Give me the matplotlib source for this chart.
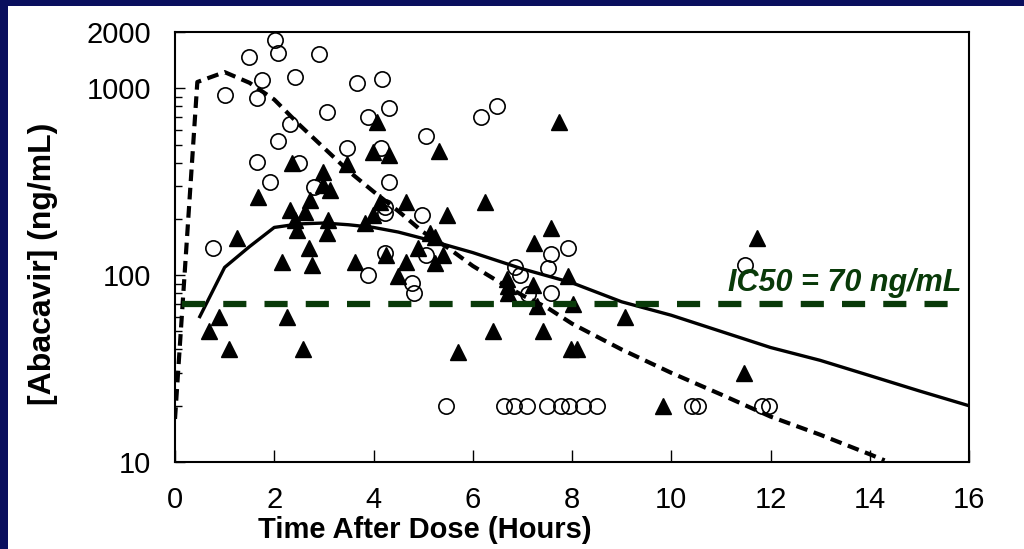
import matplotlib
matplotlib.use("Agg")
import matplotlib.pyplot as plt
from matplotlib.patches import Rectangle
from matplotlib.ticker import FixedLocator, LogLocator, NullFormatter

plt.rcParams["font.family"] = ["Liberation Sans", "DejaVu Sans"]

# open circles (x hours, ng/mL)
circ_x = [2.02, 2.08, 1.49, 2.90, 2.42, 1.75, 3.67, 1.01, 1.65, 3.06, 2.32, 2.08, 3.47,
          4.17, 4.31, 3.89, 5.06, 4.15, 1.65, 2.50, 1.91, 4.31, 2.80, 4.23, 4.98, 4.23,
          6.49, 6.17, 0.77, 3.89, 4.23, 4.78, 4.82, 5.06, 6.85, 6.95, 7.92, 7.58, 7.52,
          7.58, 7.11, 11.49,
          5.47, 6.63, 6.83, 7.09, 7.50, 7.78, 7.94, 8.22, 8.50, 10.42, 10.54, 11.83, 11.97]
circ_y = [1810, 1540, 1465, 1520, 1145, 1105, 1065, 920, 885, 745, 640, 525, 478,
          1115, 780, 700, 553, 478, 402, 397, 314, 314, 296, 231, 209, 216,
          801, 700, 139, 100, 131, 91, 80, 128, 110, 100, 139, 129, 109,
          80, 79, 113,
          20, 20, 20, 20, 20, 20, 20, 20, 20, 20, 20, 20, 20]

# filled triangles
tri_x = [4.07, 5.32, 3.99, 4.31, 2.36, 3.47, 2.98, 2.98, 3.12, 1.67, 2.72, 4.13, 4.65,
         5.48, 2.32, 2.62, 7.74, 6.25, 2.42, 3.08, 2.46, 3.06, 1.25, 2.70, 2.16, 2.76,
         3.63, 4.25, 4.65, 4.49, 4.90, 5.24, 0.89, 0.69, 1.09, 2.26, 2.58, 3.83, 5.14,
         5.40, 5.24, 6.69, 6.72, 6.72, 7.58, 7.23, 7.92, 7.21, 7.30, 8.02, 9.07, 6.41,
         7.42, 5.71, 7.98, 8.10, 9.83, 11.73, 11.47, 3.99]
tri_y = [658, 460, 455, 438, 397, 394, 356, 303, 285, 261, 252, 245, 245,
         209, 223, 217, 658, 245, 197, 197, 174, 168, 158, 139, 117, 113,
         117, 128, 117, 99, 139, 160, 60, 50, 40, 60, 40, 190, 168,
         128, 116, 95, 87, 80, 178, 148, 99, 89, 68, 70, 60, 50,
         50, 39, 40, 40, 20, 158, 30, 209]

# model curves
solid_x = [0.5, 1.0, 1.5, 2.0, 2.5, 3.0, 3.5, 4.0, 4.5, 5.0, 6.0, 7.0, 8.0, 9.0,
           10.0, 11.0, 12.0, 13.0, 14.0, 15.0, 16.0]
solid_y = [60, 110, 142, 180, 188, 190, 186, 180, 170, 157, 132, 108, 91, 72,
           61, 50, 41, 35, 29, 24, 20]
dash_x = [0.0, 0.45, 1.0, 1.5, 2.0, 2.5, 3.0, 3.5, 4.0, 4.5, 5.0, 5.5, 6.0, 6.5,
          7.0, 7.5, 8.0, 9.0, 10.0, 11.0, 12.0, 13.0, 14.0, 14.3]
dash_y = [17, 1080, 1220, 1070, 870, 640, 480, 360, 280, 220, 170, 140, 112, 93,
          78, 67, 55, 40, 30, 23, 17.5, 14, 11, 10.2]

ic50 = 70
yticks = [10, 100, 1000, 2000]
xticks = [0, 2, 4, 6, 8, 10, 12, 14, 16]

navy = "#0a0f5e"
green = "#093a09"

fig = plt.figure(figsize=(10.24, 5.49), dpi=100, facecolor=navy)
fig.patches.append(Rectangle((8 / 1024, 0), 1 - 8 / 1024, 1 - 6 / 549,
                             transform=fig.transFigure, facecolor="white",
                             edgecolor="none", zorder=-10))
ax = fig.add_axes([175 / 1024, 87 / 549, 794 / 1024, 430 / 549])

ax.set_yscale("log")
ax.set_xlim(0, 16)
ax.set_ylim(10, 2000)

ax.plot(solid_x, solid_y, color="black", lw=2.4, zorder=3)
ax.plot(dash_x, dash_y, color="black", lw=3, dashes=(2.8, 1.6), zorder=3)
ax.plot([0.14, 15.8], [ic50, ic50], color=green, lw=4.5, dashes=(3.7, 2.9), zorder=4)

ax.plot(circ_x, circ_y, linestyle="none", marker="o", ms=11, mfc="none",
        mec="black", mew=1.2, zorder=2)
ax.plot(tri_x, tri_y, linestyle="none", marker="^", ms=11.5, color="black", zorder=2)

ax.text(15.85, 82, "IC50 = 70 ng/mL", color=green, fontsize=22, fontweight="bold",
        style="italic", ha="right", va="baseline", zorder=5)

ax.yaxis.set_major_locator(FixedLocator(yticks))
ax.set_yticklabels([str(t) for t in yticks])
ax.yaxis.set_minor_locator(LogLocator(base=10, subs=range(2, 10)))
ax.yaxis.set_minor_formatter(NullFormatter())
ax.set_xticks(xticks)
ax.set_xticklabels([str(t) for t in xticks])

ax.tick_params(axis="x", which="major", direction="in", length=9, width=1,
               labelsize=21, pad=17, top=False)
ax.tick_params(axis="y", which="major", direction="in", length=7, width=1,
               labelsize=21, pad=17, right=False)
ax.tick_params(axis="y", which="minor", direction="in", length=5, width=1, right=False)
for s in ax.spines.values():
    s.set_linewidth(1.5)

ax.set_xlabel("Time After Dose (Hours)", fontsize=21, fontweight="bold")
ax.xaxis.set_label_coords(0.315, -0.125)
ax.set_ylabel("[Abacavir] (ng/mL)", fontsize=23, fontweight="bold")
ax.yaxis.set_label_coords(-0.147, 0.46)

fig.savefig("out.png", dpi=100, facecolor=navy)
